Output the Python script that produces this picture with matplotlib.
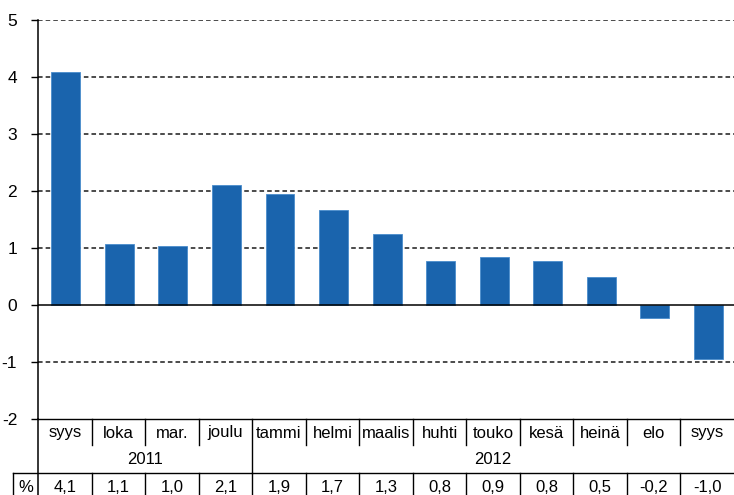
import matplotlib
matplotlib.use("Agg")
import matplotlib.pyplot as plt
from matplotlib.transforms import blended_transform_factory
from matplotlib.lines import Line2D

plt.rcParams['font.family'] = ['Liberation Sans', 'DejaVu Sans']

months = ["syys", "loka", "mar.", "joulu", "tammi", "helmi", "maalis",
          "huhti", "touko", "kesä", "heinä", "elo", "syys"]
values = [4.08, 1.07, 1.03, 2.1, 1.94, 1.66, 1.24, 0.77, 0.84, 0.77, 0.49, -0.23, -0.95]
value_labels = ["4,1", "1,1", "1,0", "2,1", "1,9", "1,7", "1,3", "0,8", "0,9", "0,8", "0,5", "-0,2", "-1,0"]
years = ["2011", "2012"]
year_counts = [4, 9]
yticks = [-2, -1, 0, 1, 2, 3, 4, 5]

W, H = 734, 495
fig = plt.figure(figsize=(W / 100, H / 100), dpi=100)
ax_left = 38 / W
ax_top_px, ax_bot_px = 19.5, 419
ax = fig.add_axes([ax_left, (H - ax_bot_px) / H, 1 - ax_left, (ax_bot_px - ax_top_px) / H])

x = list(range(len(months)))
ax.bar([xi + 0.02 for xi in x], values, width=0.54, color="#1a64ad", edgecolor="#4a8ccc", linewidth=0.6, zorder=3)
ax.set_xlim(-0.5, len(months) - 0.5)
ax.set_ylim(-2, 5)
ax.set_yticks(yticks)
ax.set_yticklabels([str(t) for t in yticks], fontsize=12.5)
ax.tick_params(axis='y', length=5, width=1, pad=10, color='black')
ax.set_xticks([])
for t in yticks:
    if t == 0:
        ax.axhline(0, color='black', lw=1.1, zorder=4)
    elif t != -2:
        ax.axhline(t, color='#1a1a1a', lw=1.1, ls=(0, (3, 2)), zorder=1)
for s in ['top', 'right', 'bottom']:
    ax.spines[s].set_visible(False)
ax.spines['left'].set_linewidth(1.1)

# table below the axes
tr = blended_transform_factory(ax.transData, fig.transFigure)
def fy(px):
    return (H - px) / H

fs = 12
y_top, y_month_bot, y_pct_top, y_bot = 419, 445, 473, 495
lw = 1.0
fig.add_artist(Line2D([-0.5, 12.5], [fy(y_top)] * 2, transform=tr, color='black', lw=lw))
fig.add_artist(Line2D([-0.5, -0.5], [fy(y_top), fy(y_bot)], transform=tr, color='black', lw=1.1))
for i in range(1, len(months)):
    bottom = y_pct_top if i == year_counts[0] else y_month_bot
    fig.add_artist(Line2D([i - 0.5, i - 0.5], [fy(y_top), fy(bottom)], transform=tr, color='black', lw=lw))
for i, m in enumerate(months):
    fig.text(i, fy(433), m, transform=tr, ha='center', va='center', fontsize=fs)
start = 0
for yr, c in zip(years, year_counts):
    fig.text(start + (c - 1) / 2, fy(459), yr, transform=tr, ha='center', va='center', fontsize=fs)
    start += c
pct_left_px = 13
fig.add_artist(Line2D([pct_left_px / W, 1], [fy(y_pct_top)] * 2, transform=fig.transFigure, color='black', lw=lw))
fig.add_artist(Line2D([pct_left_px / W] * 2, [fy(y_pct_top), fy(y_bot)], transform=fig.transFigure, color='black', lw=lw))
fig.text((pct_left_px + 38) / 2 / W, fy(487), "%", ha='center', va='center', fontsize=fs)
for i in range(1, len(months)):
    fig.add_artist(Line2D([i - 0.5, i - 0.5], [fy(y_pct_top), fy(y_bot)], transform=tr, color='black', lw=lw))
for i, v in enumerate(value_labels):
    fig.text(i, fy(487), v, transform=tr, ha='center', va='center', fontsize=fs)

fig.savefig("out.png", dpi=100)
